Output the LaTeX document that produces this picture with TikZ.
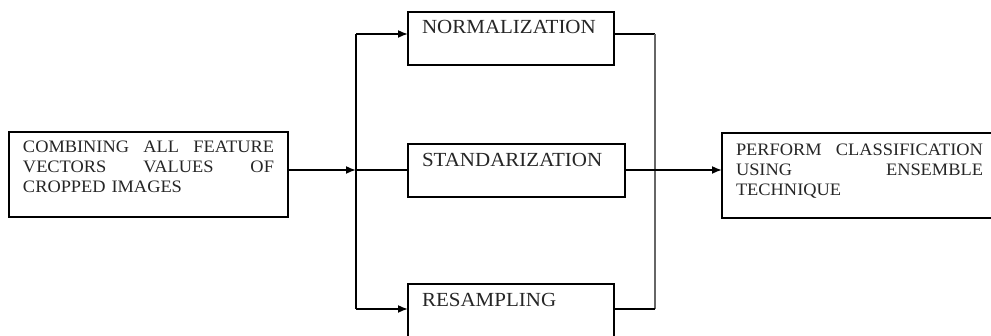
\documentclass[tikz,border=0pt]{standalone}
\usepackage{fontspec}
\setmainfont{Liberation Serif}[FakeStretch=1.05]
\usetikzlibrary{arrows.meta}
\newcommand\sidefont{\fontsize{17.5}{20}\selectfont}
\newcommand\midfont{\fontsize{20}{22}\selectfont}
\newcommand\fullline[1]{\leavevmode\hbox to\linewidth{#1}}
\tikzset{
  box/.style={draw, line width=1.7pt, inner xsep=14pt, inner ysep=0pt, outer sep=0pt,
              anchor=north west, align=left, text=black!85},
  conn/.style={line width=1.7pt},
  arr/.style={conn, -{Latex[length=10pt,width=8pt]}},
}
\begin{document}
\begin{tikzpicture}[x=1pt,y=-1pt]
\useasboundingbox (0,0) rectangle (991,336);
\clip (0,0) rectangle (991,336);
\fill[white] (0,0) rectangle (991,336);

\node[box, font=\sidefont, text width=251pt, text height=21pt, text depth=64pt] (comb) at (9,132)
  {\fullline{COMBINING\hfill ALL\hfill FEATURE}\\\fullline{VECTORS\hfill VALUES\hfill OF}\\CROPPED IMAGES};

\node[box, font=\midfont, text width=178pt, text height=22pt, text depth=31pt] (norm) at (408,12) {NORMALIZATION};
\node[box, font=\midfont, text width=189pt, text height=23pt, text depth=30pt] (std) at (408,144) {STANDARIZATION};
\node[box, font=\midfont, text width=178pt, text height=23pt, text depth=40pt] (res) at (408,284) {RESAMPLING};

\node[box, font=\sidefont, text width=247pt, text height=22.5pt, text depth=62.5pt] (cls) at (722,133)
  {\fullline{PERFORM\hfill CLASSIFICATION}\\\fullline{USING\hfill ENSEMBLE}\\TECHNIQUE};

\coordinate (split) at (356,170);
\coordinate (tl) at (356,34);
\coordinate (bl) at (356,309);
\coordinate (tr) at (655,34);
\coordinate (br) at (655,309);

\draw[arr] (comb.east |- split) -- (split);
\draw[conn] (tl) -- (bl);
\draw[arr] (tl) -- (tl -| norm.west);
\draw[conn] (split) -- (split -| std.west);
\draw[arr] (bl) -- (bl -| res.west);

\draw[conn] (norm.east |- tr) -- (tr);
\draw[conn, draw=black!60] (tr) -- (br);
\draw[conn] (br) -- (res.east |- br);
\draw[arr] (split -| std.east) -- (split -| cls.west);
\end{tikzpicture}
\end{document}
